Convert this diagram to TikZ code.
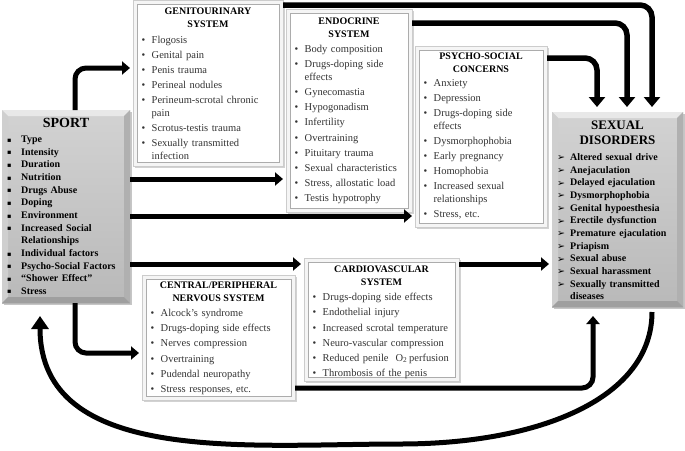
\documentclass[tikz,border=0pt]{standalone}
\usepackage{fontspec}
\setmainfont{Liberation Serif}
\newfontfamily\dejavu{DejaVu Sans}
\usetikzlibrary{arrows.meta,shadows}

\newlength\bulw
\setlength\bulw{10pt}
\newcommand\pitemx[1]{\hangindent=\bulw\hangafter=1\noindent\makebox[\bulw][l]{\textbullet}#1}
\newcommand\pitem[1]{\par\vspace{2.3pt}\pitemx{#1}}
\newcommand\sitem[1]{\par\hangindent=14pt\hangafter=1\noindent\makebox[14pt][l]{\dejavu\fontsize{6.5}{6.5}\selectfont\raisebox{0.5pt}{▪}}#1}
\newcommand\ditem[1]{\par\hangindent=13pt\hangafter=1\noindent\makebox[13pt][l]{\dejavu\fontsize{9.5}{9.5}\selectfont\raisebox{-0.3pt}{➢}}#1}
\newcommand\innerframe[1]{\draw[gray!65, line width=0.7pt, fill=white] ([shift={(4pt,-4pt)}]#1.north west) rectangle ([shift={(-4pt,4pt)}]#1.south east);}
\newcommand\bevel[1]{%
 \fill[gray!18] (#1.north west) -- (#1.north east) -- ([shift={(-6pt,-6pt)}]#1.north east) -- ([shift={(6pt,-6pt)}]#1.north west) -- cycle;
 \fill[gray!38] (#1.north west) -- ([shift={(6pt,-6pt)}]#1.north west) -- ([shift={(6pt,6pt)}]#1.south west) -- (#1.south west) -- cycle;
 \fill[gray!62] (#1.north east) -- ([shift={(-6pt,-6pt)}]#1.north east) -- ([shift={(-6pt,6pt)}]#1.south east) -- (#1.south east) -- cycle;
 \fill[gray!75] (#1.south west) -- ([shift={(6pt,6pt)}]#1.south west) -- ([shift={(-6pt,6pt)}]#1.south east) -- (#1.south east) -- cycle;}

\tikzset{
 panel/.style={draw=gray!40, fill=gray!8, line width=0.6pt, inner sep=0pt, outer sep=0pt, anchor=north west,
   general shadow={shadow xshift=1.5pt, shadow yshift=-1.5pt, fill=gray!35}},
 graybox/.style={inner sep=0pt, outer sep=0pt, anchor=north west, top color=gray!35, bottom color=gray!55,
   general shadow={shadow xshift=2pt, shadow yshift=-2pt, fill=gray!45}},
 ptitle/.style={font=\fontsize{10}{13}\selectfont\bfseries, align=center, anchor=north, inner sep=0pt},
 plist/.style={font=\fontsize{10.5}{12.8}\selectfont, text=black!80, align=left, anchor=north west, inner sep=0pt},
 glist/.style={font=\fontsize{10}{12.65}\selectfont\bfseries, align=left, anchor=north west, inner sep=0pt},
 conn/.style={line width=5pt, rounded corners=11pt, -{Triangle[width=13pt,length=8pt]}, shorten >=3pt},
 connbig/.style={line width=5.5pt, rounded corners=12pt, -{Triangle[width=16pt,length=10pt]}, shorten >=5pt},
 backarrow/.style={line width=5pt, -{Triangle[width=17pt,length=13pt]}},
}

\begin{document}
\begin{tikzpicture}[x=1pt,y=-1pt]
\useasboundingbox (0,0) rectangle (685,450);
\fill[white] (0,0) rectangle (685,450);

% panels
\node[panel, minimum width=150pt, minimum height=166pt] (gu) at (133,0.5) {};
\node[panel, minimum width=126pt, minimum height=203pt] (endo) at (286,9) {};
\node[panel, minimum width=132pt, minimum height=181pt] (ps) at (415,46) {};
\node[panel, minimum width=155pt, minimum height=123pt] (cv) at (304,258) {};
\node[panel, minimum width=153pt, minimum height=125pt] (cns) at (142,275) {};
\innerframe{gu}
\innerframe{endo}
\innerframe{ps}
\innerframe{cv}
\innerframe{cns}

% gray boxes
\node[graybox, minimum width=128pt, minimum height=193pt] (sport) at (2,110) {};
\node[graybox, minimum width=131pt, minimum height=195pt] (sd) at (552,112) {};
\bevel{sport}
\bevel{sd}

% panel texts
\node[ptitle] (gut) at (208,7.7) {GENITOURINARY\\SYSTEM};
\node[plist, text width=134pt] (gul) at (141.5,35.8) {\pitemx{Flogosis}\pitem{Genital pain}\pitem{Penis trauma}\pitem{Perineal nodules}\pitem{Perineum-scrotal chronic\newline pain}\pitem{Scrotus-testis trauma}\pitem{Sexually transmitted\newline infection}\par};

\node[ptitle] (endot) at (349,17.7) {ENDOCRINE\\SYSTEM};
\node[plist, text width=112pt] (endol) at (294.5,45.3) {\pitemx{Body composition}\pitem{Drugs-doping side\newline effects}\pitem{Gynecomastia}\pitem{Hypogonadism}\pitem{Infertility}\pitem{Overtraining}\pitem{Pituitary trauma}\pitem{Sexual characteristics}\pitem{Stress, allostatic load}\pitem{Testis hypotrophy}\par};

\node[ptitle] (pst) at (481,52.7) {PSYCHO-SOCIAL\\CONCERNS};
\node[plist, text width=118pt] (psl) at (423.5,79.3) {\pitemx{Anxiety}\pitem{Depression}\pitem{Drugs-doping side\newline effects}\pitem{Dysmorphophobia}\pitem{Early pregnancy}\pitem{Homophobia}\pitem{Increased sexual\newline relationships}\pitem{Stress, etc.}\par};

\node[ptitle] (cvt) at (381.5,266) {CARDIOVASCULAR\\SYSTEM};
\node[plist, text width=142pt] (cvl) at (312.5,293.3) {\pitemx{Drugs-doping side effects}\pitem{Endothelial injury}\pitem{Increased scrotal temperature}\pitem{Neuro-vascular compression}\pitem{Reduced penile\ \ O\textsubscript{2}\,perfusion}\pitem{Thrombosis of the penis}\par};

\node[ptitle] (cnst) at (218.5,282) {CENTRAL/PERIPHERAL\\NERVOUS SYSTEM};
\node[plist, text width=140pt] (cnsl) at (150.5,309.3) {\pitemx{Alcock’s syndrome}\pitem{Drugs-doping side effects}\pitem{Nerves compression}\pitem{Overtraining}\pitem{Pudendal neuropathy}\pitem{Stress responses, etc.}\par};

% gray box texts
\node[font=\fontsize{14}{16}\selectfont\bfseries, anchor=north, inner sep=0pt] (sportt) at ([yshift=-8.4pt]sport.north) {SPORT};
\node[glist, text width=120pt] (sportl) at ([shift={(5pt,-19.8pt)}]sport.north west) {\sitem{Type}\sitem{Intensity}\sitem{Duration}\sitem{Nutrition}\sitem{Drugs Abuse}\sitem{Doping}\sitem{Environment}\sitem{Increased Social\newline Relationships}\sitem{Individual factors}\sitem{Psycho-Social Factors}\sitem{“Shower Effect”}\sitem{Stress}\par};

\node[font=\fontsize{13}{15}\selectfont\bfseries, align=center, anchor=north, inner sep=0pt] (sdt) at ([yshift=-8.2pt]sd.north) {\textbf{SEXUAL}\\\textbf{DISORDERS}};
\node[glist, text width=124pt] (sdl) at ([shift={(5pt,-35.8pt)}]sd.north west) {\ditem{Altered sexual drive}\ditem{Anejaculation}\ditem{Delayed ejaculation}\ditem{Dysmorphophobia}\ditem{Genital hypoesthesia}\ditem{Erectile dysfunction}\ditem{Premature ejaculation}\ditem{Priapism}\ditem{Sexual abuse}\ditem{Sexual harassment}\ditem{Sexually transmitted\newline diseases}\par};

% connectors from SPORT
\draw[conn] ([xshift=9pt]sport.north) |- ([yshift=-67.5pt]gu.north west);
\draw[conn] ([yshift=-69pt]sport.north east) coordinate (s1) -- (s1 -| endo.west);
\draw[conn] ([yshift=-106pt]sport.north east) coordinate (s2) -- (s2 -| ps.west);
\draw[conn] ([yshift=-154pt]sport.north east) coordinate (s3) -- (s3 -| cv.west);
\draw[conn] ([xshift=9pt]sport.south) |- ([yshift=-78pt]cns.north west);

% connectors to SEXUAL DISORDERS
\draw[conn] ([yshift=-6pt]cv.north east) coordinate (c1) -- (c1 -| sd.west);
\draw[conn, shorten >=9pt] ([yshift=12pt]cns.south east) -| ([xshift=-24.5pt]sd.south);
\draw[connbig] ([yshift=-4.5pt]gu.north east) -| ([xshift=34.5pt]sd.north);
\draw[connbig] ([yshift=-14pt]endo.north east) -| ([xshift=9.5pt]sd.north);
\draw[connbig] ([yshift=-12pt]ps.north east) -| ([xshift=-20.5pt]sd.north);

% feedback curve
\coordinate (cstart) at ([shift={(34.5pt,-5pt)}]sd.south);
\coordinate (cbot) at (400,444);
\coordinate (cend) at ([shift={(38pt,-13pt)}]sport.south west);
\draw[backarrow] (cstart) .. controls +(0,86) and +(140,0) .. (cbot) .. controls +(-150,0) and +(0,150) .. (cend);
\end{tikzpicture}
\end{document}
